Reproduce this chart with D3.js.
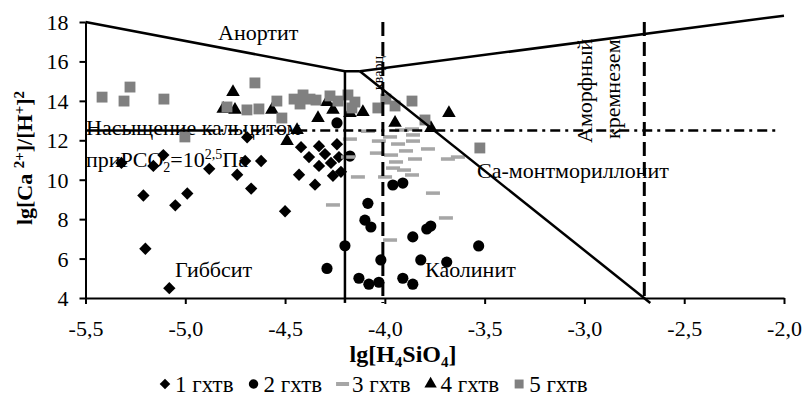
<!DOCTYPE html>
<html><head><meta charset="utf-8">
<script src="https://cdn.jsdelivr.net/npm/d3@7/dist/d3.min.js"></script>
<style>body{margin:0;background:#fff} svg{display:block} text{font-family:"Liberation Serif","Times New Roman",serif;fill:#000}</style>
</head><body><svg id="c" width="803" height="406"></svg>
<script>
const xTicks = [-5.5,-5.0,-4.5,-4.0,-3.5,-3.0,-2.5,-2.0];
const yTicks = [4,6,8,10,12,14,16,18];

// 1 гхтв (diamonds)
const series1 = [[-5.32,10.85],[-5.16,10.7],[-5.11,11.25],[-5.21,9.2],[-5.05,8.7],[-4.99,9.3],[-5.2,6.5],[-5.08,4.5],
 [-4.88,10.55],[-4.74,10.25],[-4.69,12.15],[-4.7,10.95],[-4.62,10.95],[-4.67,9.55],[-4.5,8.4],[-4.42,11.65],
 [-4.38,11.15],[-4.43,10.25],[-4.35,9.75],[-4.33,11.7],[-4.3,11.3],[-4.24,11.8],[-4.27,10.85],[-4.33,10.7],
 [-4.26,10.2],[-4.22,10.4],[-4.23,11.15]];
// 2 гхтв (circles)
const series2 = [[-4.2,6.65],[-4.29,5.5],[-4.085,8.8],[-4.1,7.95],[-4.07,7.6],[-4.02,5.93],[-4.13,5.0],[-4.08,4.7],
 [-4.03,4.8],[-3.91,5.0],[-3.86,4.7],[-3.86,7.1],[-3.82,5.93],[-3.69,5.82],[-3.79,7.5],[-3.77,7.65],[-3.53,6.64],
 [-3.96,9.73],[-3.91,9.83],[-4.24,12.88],[-4.175,11.2]];
// 3 гхтв (dashes)
const series3 = [[-4.085,12.46],[-3.914,12.52],[-3.864,12.57],[-4.175,12.06],[-4.03,11.96],[-3.974,12.17],[-3.934,11.81],
 [-3.859,11.96],[-3.784,11.56],[-4.04,11.35],[-3.969,11.25],[-3.894,11.46],[-3.849,11.05],[-3.944,10.9],[-3.959,10.59],
 [-3.904,10.49],[-3.684,11.05],[-3.634,11.15],[-4.135,10.14],[-3.999,10.14],[-3.864,10.24],[-3.759,9.32],[-4.26,8.72],
 [-3.694,8.06],[-3.974,6.94],[-4.185,11.15],[-3.859,12.27]];
// 4 гхтв (triangles)
const series4 = [[-4.81,13.6],[-4.761,14.45],[-4.751,13.54],[-4.566,13.54],[-4.49,11.96],[-4.44,12.52],[-4.335,13.13],
 [-4.29,13.94],[-4.26,13.54],[-4.175,13.38],[-4.11,13.43],[-3.949,12.88],[-3.769,12.62],[-3.679,13.38]];
// 5 гхтв (squares)
const series5 = [[-5.417,14.19],[-5.307,13.99],[-5.277,14.7],[-5.107,14.09],[-5.002,12.17],[-4.651,14.91],[-4.791,13.69],
 [-4.691,13.54],[-4.631,13.59],[-4.541,13.99],[-4.516,13.13],[-4.455,14.09],[-4.41,14.3],[-4.425,13.84],[-4.375,14.09],
 [-4.345,14.04],[-4.275,14.25],[-4.235,13.99],[-4.185,14.3],[-4.15,13.94],[-4.165,13.64],[-4.035,13.64],[-3.995,14.09],
 [-3.949,13.74],[-3.864,13.99],[-3.799,13.03],[-3.524,11.61]];
const legendLabels = ["1 гхтв","2 гхтв","3 гхтв","4 гхтв","5 гхтв"];

// field boundaries
const anorthiteLine = [[-5.5,18],[-4.2,15.5],[-4.125,15.5]];
const upperLine = [[-4.125,15.5],[-2.0,18.32]];
const kaolMontLine = [[-4.125,15.5],[-2.67,3.75]];
const gibbsKaolLine = [[-4.2,15.5],[-4.2,3.75]];
const quartzLine = [[-4.01,18],[-4.01,3.75]];
const amorphLine = [[-2.70,18],[-2.70,4]];
const calciteSolid = [[-5.5,12.5],[-4.9,12.5]];
const calciteDashed = [[-4.9,12.5],[-2.04,12.5]];

const svg = d3.select("#c");
const x = d3.scaleLinear().domain([-5.5,-2.0]).range([85.5,784]);
const y = d3.scaleLinear().domain([4,18]).range([298,22]);
const FS = 22;
const gray5 = "#808080", gray3 = "#a6a6a6";

// axes
const gx = svg.append("g").attr("transform","translate(0,298)")
  .call(d3.axisBottom(x).tickValues(xTicks).tickSize(6).tickSizeOuter(0).tickFormat(d=>d.toFixed(1).replace(".",",")));
const gy = svg.append("g").attr("transform","translate(85.5,0)")
  .call(d3.axisLeft(y).tickValues(yTicks).tickSize(6).tickSizeOuter(0).tickFormat(d3.format("d")));
[gx,gy].forEach(g=>{
  g.attr("font-family",null).attr("font-size",null);
  g.select(".domain").attr("stroke","#000").attr("stroke-width",2);
  g.selectAll(".tick line").attr("stroke","#000").attr("stroke-width",2);
  g.selectAll(".tick text").attr("font-size",FS).attr("fill","#000");
});
gx.selectAll(".tick text").attr("dy",0).attr("y",38);
gy.selectAll(".tick text").attr("x",-17).attr("dy","0.34em");

// axis titles
const xt = svg.append("text").attr("x",403).attr("y",362).attr("text-anchor","middle").attr("font-weight","bold").attr("font-size",24);
xt.append("tspan").text("lg[H");
xt.append("tspan").attr("font-size",15).attr("dy",5).text("4");
xt.append("tspan").attr("dy",-5).text("SiO");
xt.append("tspan").attr("font-size",15).attr("dy",5).text("4");
xt.append("tspan").attr("dy",-5).text("]");

const yt = svg.append("text").attr("transform","translate(32,158) rotate(-90)").attr("text-anchor","middle").attr("font-weight","bold").attr("font-size",FS);
yt.append("tspan").text("lg[Ca ");
yt.append("tspan").attr("font-size",15).attr("dy",-8).text("2+");
yt.append("tspan").attr("dy",8).text("]/[H");
yt.append("tspan").attr("font-size",15).attr("dy",-8).text("+");
yt.append("tspan").attr("dy",8).text("]");
yt.append("tspan").attr("font-size",15).attr("dy",-8).text("2");

// field labels
function lab(t,px,py,rot,fs){
  const e = svg.append("text").attr("font-size",fs||FS);
  if(rot) e.attr("transform",`translate(${px},${py}) rotate(-90)`); else e.attr("x",px).attr("y",py);
  e.text(t); return e;
}
lab("Анортит",218,40);
lab("Гиббсит",175,277);
lab("Каолинит",425,277);
lab("Са-монтмориллонит",477,178);
lab("Аморфный",592,143,true);
lab("кремнезем",620,139,true);
lab("кварц",383,90,true,14);
lab("Насыщение кальцитом",86,135);
const pr = svg.append("text").attr("x",86).attr("y",167).attr("font-size",FS);
pr.append("tspan").text("приPCO");
pr.append("tspan").attr("font-size",14).attr("dy",5).text("2");
pr.append("tspan").attr("dy",-5).text("=10");
pr.append("tspan").attr("font-size",14).attr("dy",-8).text("2,5");
pr.append("tspan").attr("dy",8).text("Па");

// markers
const diamond = d3.symbol().type(d3.symbolSquare).size(76);
const circle = d3.symbol().type(d3.symbolCircle).size(98);
const tri = d3.symbol().type(d3.symbolTriangle).size(80);
const sq = d3.symbol().type(d3.symbolSquare).size(118);
const mk = svg.append("g");
function drawSym(data,gen,fill,rot){
  mk.append("g").selectAll("path").data(data).join("path")
    .attr("d",gen).attr("fill",fill)
    .attr("transform",d=>`translate(${x(d[0])},${y(d[1])})`+(rot?" rotate(45)":""));
}
drawSym(series1,diamond,"#000",true);
drawSym(series2,circle,"#000");
mk.append("g").selectAll("rect").data(series3).join("rect")
  .attr("x",d=>x(d[0])-7).attr("y",d=>y(d[1])-1.75).attr("width",14).attr("height",3.5).attr("fill",gray3);
drawSym(series4,tri,"#000");
drawSym(series5,sq,gray5);

// boundary lines
const line = d3.line().x(d=>x(d[0])).y(d=>y(d[1]));
function ln(d,w,dash){ const p=svg.append("path").attr("d",line(d)).attr("fill","none").attr("stroke","#000").attr("stroke-width",w); if(dash) p.attr("stroke-dasharray",dash); }
ln(anorthiteLine,2.5);
ln(upperLine,2.5);
ln(kaolMontLine,2.5);
ln(gibbsKaolLine,2.5);
ln(quartzLine,3,"14,6");
ln(amorphLine,3,"14,6");
ln(calciteSolid,2.5);
ln(calciteDashed,2.5,"10,5,3,5");

// legend
const lg = svg.append("g");
const types = ["d","c","r","t","s"];
let cx = 160; const ly = 384;
legendLabels.forEach((t,i)=>{
  const ty = types[i];
  if(ty==="d") lg.append("path").attr("d",d3.symbol().type(d3.symbolSquare).size(56)()).attr("transform",`translate(${cx+5},${ly}) rotate(45)`);
  if(ty==="c") lg.append("path").attr("d",d3.symbol().type(d3.symbolCircle).size(70)()).attr("transform",`translate(${cx+5},${ly})`);
  if(ty==="r") lg.append("rect").attr("x",cx-1).attr("y",ly-2).attr("width",13).attr("height",4).attr("fill",gray3);
  if(ty==="t") lg.append("path").attr("d",d3.symbol().type(d3.symbolTriangle).size(66)()).attr("transform",`translate(${cx+5},${ly})`);
  if(ty==="s") lg.append("path").attr("d",d3.symbol().type(d3.symbolSquare).size(80)()).attr("fill",gray5).attr("transform",`translate(${cx+5},${ly})`);
  const tx = lg.append("text").attr("x",cx+15).attr("y",ly+7.5).attr("font-size",23).text(t);
  cx += 15 + tx.node().getComputedTextLength() + 15;
});
</script></body></html>
